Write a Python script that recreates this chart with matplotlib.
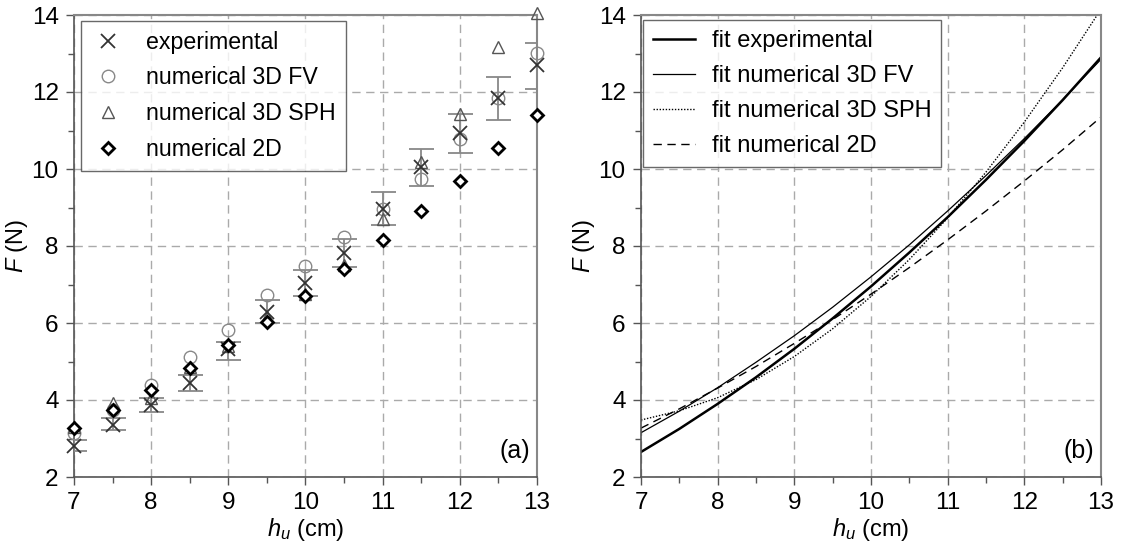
import numpy as np
import matplotlib
matplotlib.use("Agg")
import matplotlib.pyplot as plt

# Fonts
plt.rcParams['font.family'] = ['Liberation Sans', 'DejaVu Sans']
plt.rcParams['mathtext.fontset'] = 'custom'
plt.rcParams['mathtext.rm'] = 'Liberation Sans'
plt.rcParams['mathtext.it'] = 'Liberation Sans:italic'

# Data
h = [7, 7.5, 8, 8.5, 9, 9.5, 10, 10.5, 11, 11.5, 12, 12.5, 13]
experimental = [2.81, 3.35, 3.87, 4.45, 5.32, 6.29, 7.04, 7.83, 8.97, 10.05, 10.94, 11.84, 12.69]
exp_low = [2.68, 3.22, 3.68, 4.23, 5.03, 6.00, 6.70, 7.45, 8.54, 9.56, 10.41, 11.28, 12.08]
exp_high = [2.96, 3.54, 4.04, 4.64, 5.51, 6.61, 7.37, 8.17, 9.39, 10.51, 11.42, 12.38, 13.28]
num_3d_fv = [3.14, 3.75, 4.39, 5.12, 5.81, 6.72, 7.47, 8.23, 8.95, 9.73, 10.77, 11.85, 13.02]
num_3d_sph = [3.30, 3.92, 4.05, 4.85, 5.40, 6.16, 6.75, 7.50, 8.71, 10.18, 11.43, 13.18, 14.04]
num_2d = [3.27, 3.74, 4.26, 4.83, 5.42, 6.03, 6.70, 7.41, 8.15, 8.91, 9.70, 10.55, 11.41]

# Fit Curves
fit_h = [7, 7.5, 8, 8.5, 9, 9.5, 10, 10.5, 11, 11.5, 12, 12.5, 13]
fit_experimental = [2.65, 3.25, 3.90, 4.59, 5.33, 6.12, 6.95, 7.83, 8.75, 9.72, 10.73, 11.79, 12.90]
fit_3d_fv = [3.15, 3.71, 4.32, 4.98, 5.67, 6.41, 7.20, 8.03, 8.91, 9.83, 10.79, 11.80, 12.85]
fit_3d_sph = [3.48, 3.72, 4.06, 4.53, 5.13, 5.85, 6.69, 7.65, 8.73, 9.92, 11.22, 12.63, 14.15]
fit_2d = [3.27, 3.77, 4.31, 4.87, 5.47, 6.09, 6.75, 7.44, 8.16, 8.91, 9.69, 10.50, 11.35]

W, H = 1122, 544
fig = plt.figure(figsize=(W / 100, H / 100), dpi=100)
axA = fig.add_axes([74 / W, 1 - 477 / H, (537 - 74) / W, (477 - 15) / H])
axB = fig.add_axes([641 / W, 1 - 477 / H, (1101 - 641) / W, (477 - 15) / H])

# Common Axis Styling
def styleAxis(ax, label):
    ax.set_xlim(7, 13)
    ax.set_ylim(2, 14)
    ax.set_xticks(range(7, 14))
    ax.set_xticks(np.arange(7.5, 13, 1), minor=True)
    ax.set_yticks(range(2, 15, 2))
    ax.set_yticks(range(3, 14, 2), minor=True)
    ax.grid(True, which='major', color='#aaaaaa', linestyle=(0, (6, 4)), linewidth=1.0)
    ax.set_axisbelow(True)
    for side in ['left', 'bottom']:
        ax.spines[side].set_color('#555555')
        ax.spines[side].set_linewidth(1.2)
    for side in ['top', 'right']:
        ax.spines[side].set_color('#888888')
        ax.spines[side].set_linewidth(1.5)
    ax.tick_params(which='major', direction='out', length=6, width=1, color='#555555', labelsize=17.5, pad=5)
    ax.tick_params(which='minor', direction='out', length=4, width=1, color='#555555')
    ax.set_xlabel(r'$h_u$ (cm)', fontsize=17, labelpad=1)
    ax.set_ylabel(r'$F$ (N)', fontsize=17, labelpad=1)
    ax.text(0.985, 0.03, label, transform=ax.transAxes, ha='right', va='bottom', fontsize=18)

# Panel (a): Measurements and Simulations
yerr = [np.array(experimental) - np.array(exp_low), np.array(exp_high) - np.array(experimental)]
axA.errorbar(h, experimental, yerr=yerr, fmt='none', ecolor='#888888', elinewidth=1.3, capsize=9, capthick=1.3, zorder=3)
axA.plot(h, num_3d_fv, linestyle='none', marker='o', markersize=9, markerfacecolor='none',
         markeredgecolor='#888888', markeredgewidth=1.0, label='numerical 3D FV', zorder=4, clip_on=False)
axA.plot(h, num_3d_sph, linestyle='none', marker='^', markersize=8, markerfacecolor='none',
         markeredgecolor='#555555', markeredgewidth=1.0, label='numerical 3D SPH', zorder=5, clip_on=False)
axA.plot(h, experimental, linestyle='none', marker='x', markersize=10, color='#333333',
         markeredgewidth=1.3, label='experimental', zorder=6, clip_on=False)
axA.plot(h, num_2d, linestyle='none', marker='D', markersize=6.5, markerfacecolor='white',
         markeredgecolor='black', markeredgewidth=2.0, label='numerical 2D', zorder=7, clip_on=False)
styleAxis(axA, '(a)')

# Legend Order Like Reference
handles, labels = axA.get_legend_handles_labels()
order = [2, 0, 1, 3]
legA = axA.legend([handles[i] for i in order], [labels[i] for i in order],
                  loc='upper left', bbox_to_anchor=(81 / W, 1 - 21 / H), bbox_transform=fig.transFigure,
                  borderaxespad=0, fontsize=16.7, frameon=True, fancybox=False, edgecolor='#444444',
                  labelspacing=0.55, handletextpad=0.9, borderpad=0.42, handlelength=1.5)
legA.get_frame().set_linewidth(1.0)
legA.set_zorder(10)

# Panel (b): Fits
axB.plot(fit_h, fit_experimental, color='black', linewidth=1.8, label='fit experimental')
axB.plot(fit_h, fit_3d_fv, color='black', linewidth=0.9, label='fit numerical 3D FV')
axB.plot(fit_h, fit_3d_sph, color='black', linewidth=1.0, linestyle=(0, (1, 1.2)), label='fit numerical 3D SPH')
axB.plot(fit_h, fit_2d, color='black', linewidth=1.0, linestyle=(0, (6, 4)), label='fit numerical 2D')
styleAxis(axB, '(b)')

legB = axB.legend(loc='upper left', bbox_to_anchor=(643 / W, 1 - 20 / H), bbox_transform=fig.transFigure,
                  borderaxespad=0, fontsize=17, frameon=True, fancybox=False, edgecolor='#444444',
                  labelspacing=0.55, handletextpad=0.7, borderpad=0.42, handlelength=1.8)
legB.get_frame().set_linewidth(1.0)

plt.savefig('out.png', dpi=100)
